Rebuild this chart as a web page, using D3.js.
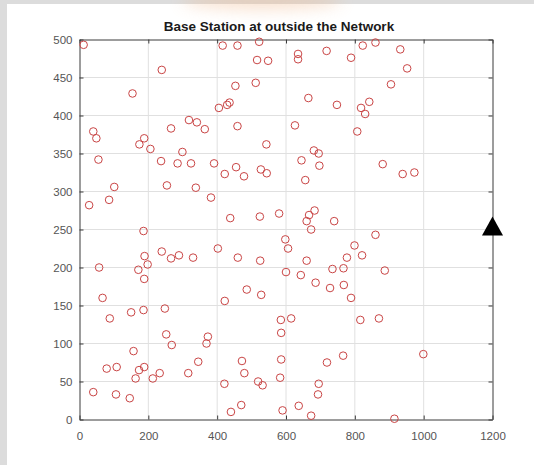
<!DOCTYPE html>
<html>
<head>
<meta charset="utf-8">
<script src="https://cdn.jsdelivr.net/npm/d3@7"></script>
<style>
  html, body { margin: 0; padding: 0; background: #ffffff; }
  svg { display: block; font-family: "Liberation Sans", Arial, Helvetica, sans-serif; }
</style>
</head>
<body>
<svg id="chart" width="534" height="465"></svg>
<script>
// Sensor node positions (x in m, y in m)
const nodeX = [
  12, 416, 459, 239, 453, 154, 405, 429, 436, 40, 49, 318, 341, 364, 266, 459, 188, 174, 206, 299,
  55, 237, 285, 324, 391, 422, 455, 478, 101, 254, 338, 86, 28, 382, 438,
  522, 516, 548, 512, 635, 635, 718, 789, 823, 860, 932, 952, 905, 665, 748, 818, 842, 830, 626,
  807, 543, 681, 695, 645, 697, 527, 544, 656, 881, 939, 973, 524, 580, 683, 667, 660, 740,
  186, 239, 189, 266, 289, 330, 402, 460, 57, 198, 171, 188, 486, 67, 88, 150, 186, 248, 422,
  252, 268, 373, 369, 157, 345, 472, 479, 79, 108, 188, 173, 163, 213, 233, 316, 421, 40, 106,
  146, 440, 470,
  860, 598, 606, 673, 799, 777, 821, 525, 660, 600, 643, 735, 767, 887, 686, 728, 768, 789, 528,
  585, 615, 586, 816, 870, 586, 719, 766, 999, 519, 532, 583, 695, 693, 590, 637, 673, 915
];
const nodeY = [
  493, 492, 492, 460, 439, 429, 410, 414, 417, 379, 370, 394, 391, 382, 383, 386, 370, 362, 356, 352,
  342, 340, 337, 337, 337, 323, 332, 320, 306, 308, 305, 289, 282, 292, 265,
  497, 473, 472, 443, 481, 474, 485, 476, 492, 496, 487, 462, 441, 423, 414, 410, 418, 402, 387,
  379, 362, 354, 350, 341, 334, 329, 324, 315, 336, 323, 325, 267, 271, 275, 269, 261, 261,
  248, 221, 215, 212, 216, 213, 225, 213, 200, 204, 197, 185, 171, 160, 133, 141, 144, 146, 156,
  112, 98, 109, 100, 90, 76, 77, 61, 67, 69, 69, 65, 54, 54, 61, 61, 47, 36, 33,
  28, 10, 19,
  243, 237, 225, 250, 229, 213, 216, 209, 209, 194, 190, 198, 199, 196, 180, 173, 177, 160, 164,
  131, 133, 114, 131, 133, 79, 75, 84, 86, 50, 45, 55, 47, 33, 12, 18, 5, 1
];
// Base station location
const baseStation = [1200, 250];

const xTicks = [0, 200, 400, 600, 800, 1000, 1200];
const yTicks = [0, 50, 100, 150, 200, 250, 300, 350, 400, 450, 500];
const titleText = "Base Station at outside the Network";

const svg = d3.select("#chart");
const W = 534, H = 465;

// figure frame: grey window edges
svg.append("rect").attr("x", 0).attr("y", 0).attr("width", W).attr("height", H).attr("fill", "#ffffff");
svg.append("rect").attr("x", 0).attr("y", 0).attr("width", 7).attr("height", H).attr("fill", "#dcdcdc");
svg.append("rect").attr("x", 0).attr("y", 0).attr("width", W).attr("height", 4).attr("fill", "#dcdcdc");

// faint warm haze along the top edge
const defs = svg.append("defs");
defs.append("filter").attr("id", "haze").attr("x", "-50%").attr("y", "-200%").attr("width", "200%").attr("height", "500%")
  .append("feGaussianBlur").attr("stdDeviation", 8);
svg.append("ellipse").attr("cx", 262).attr("cy", 0).attr("rx", 80).attr("ry", 9)
  .attr("fill", "#f0b98f").attr("opacity", 0.45).attr("filter", "url(#haze)");

const x = d3.scaleLinear().domain([0, 1200]).range([79.5, 492.5]);
const y = d3.scaleLinear().domain([0, 500]).range([419.5, 39.5]);
const fmt = d3.format("d");

// grid
const grid = svg.append("g").attr("stroke", "#e0e0e0").attr("stroke-width", 1);
grid.selectAll("line.gx").data(xTicks.slice(1, -1)).join("line")
  .attr("x1", d => x(d)).attr("x2", d => x(d)).attr("y1", y(0)).attr("y2", y(500));
grid.selectAll("line.gy").data(yTicks.slice(1, -1)).join("line")
  .attr("x1", x(0)).attr("x2", x(1200)).attr("y1", d => y(d)).attr("y2", d => y(d));

// axes (inward ticks on all four sides)
function styleAxis(g) {
  g.selectAll("path").attr("stroke", "#3a3a3a");
  g.selectAll("line").attr("stroke", "#3a3a3a");
  g.selectAll("text").attr("fill", "#555555").attr("font-size", "11.5px");
}
svg.append("g").attr("transform", `translate(0,${y(0)})`)
  .call(d3.axisBottom(x).tickValues(xTicks).tickFormat(fmt).tickSize(-4).tickSizeOuter(0).tickPadding(12.5))
  .call(g => g.attr("font-family", null).attr("font-size", null))
  .call(styleAxis);
svg.append("g").attr("transform", `translate(${x(0)},0)`)
  .call(d3.axisLeft(y).tickValues(yTicks).tickFormat(fmt).tickSize(-4).tickSizeOuter(0).tickPadding(7))
  .call(g => g.attr("font-family", null).attr("font-size", null))
  .call(styleAxis);
svg.append("g").attr("transform", `translate(0,${y(500)})`)
  .call(d3.axisTop(x).tickValues(xTicks).tickSize(-4).tickSizeOuter(0).tickFormat(""))
  .call(styleAxis);
svg.append("g").attr("transform", `translate(${x(1200)},0)`)
  .call(d3.axisRight(y).tickValues(yTicks).tickSize(-4).tickSizeOuter(0).tickFormat(""))
  .call(styleAxis);

// sensor nodes
const nodes = d3.range(nodeX.length).map(i => [nodeX[i], nodeY[i]]);
svg.append("g").selectAll("circle").data(nodes).join("circle")
  .attr("cx", d => x(d[0])).attr("cy", d => y(d[1])).attr("r", 3.8)
  .attr("fill", "none").attr("stroke", "#c94545").attr("stroke-width", 1);

// base station marker
const bx = x(baseStation[0]), by = y(baseStation[1]);
svg.append("path")
  .attr("d", `M${bx},${by - 13}L${bx + 10.5},${by + 6}L${bx - 10.5},${by + 6}Z`)
  .attr("fill", "#000000");

// title
svg.append("text").attr("x", 279).attr("y", 31).attr("text-anchor", "middle")
  .attr("font-size", "13.5px").attr("font-weight", "bold").attr("fill", "#1a1a1a")
  .text(titleText);
</script>
</body>
</html>
